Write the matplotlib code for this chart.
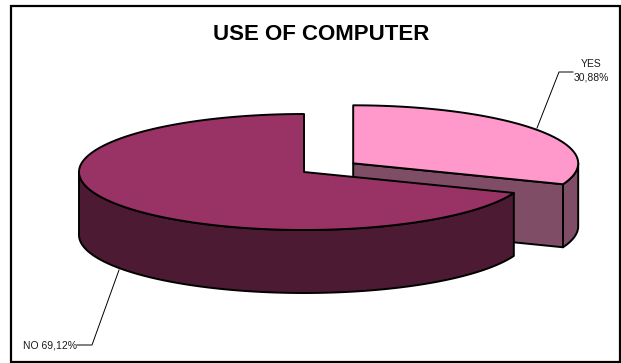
import numpy as np
import matplotlib
matplotlib.use("Agg")
import matplotlib.pyplot as plt
from matplotlib.patches import Polygon, Rectangle

# Survey answers
categories = ["YES", "NO"]
shares = [30.88, 69.12]          # percent
explode = [0.265, 0.0]

title = "USE OF COMPUTER"
top_colors = ["#FF99CC", "#993366"]
side_colors = ["#804D66", "#4D1A33"]

plt.rcParams["font.family"] = ["Liberation Sans", "DejaVu Sans"]

W, H = 621, 363
fig = plt.figure(figsize=(W / 100, H / 100), dpi=100)
ax = fig.add_axes([0, 0, 1, 1])
ax.set_xlim(0, W)
ax.set_ylim(H, 0)
ax.axis("off")

# pie geometry (pixel space, y pointing down)
cx, cy = 304.0, 172.0
a, b = 225.0, 58.0
depth = 63.0
start = 90.0
edge_kw = dict(edgecolor="black", linewidth=1.4, joinstyle="round")


def ell(t, x0, y0, dz=0.0):
    t = np.radians(t)
    return np.column_stack([x0 + a * np.cos(t), y0 - b * np.sin(t) + dz])


def arc(t_hi, t_lo, n=120):
    return np.linspace(t_hi, t_lo, n)


# slice angles (clockwise from 12 o'clock)
slices = []
cum = 0.0
for i, v in enumerate(shares):
    sweep = v / sum(shares) * 360.0
    t_hi = start - cum
    t_lo = t_hi - sweep
    mid = np.radians((t_hi + t_lo) / 2)
    x0 = cx + explode[i] * a * np.cos(mid)
    y0 = cy - explode[i] * b * np.sin(mid)
    slices.append((i, t_hi, t_lo, x0, y0))
    cum += sweep

# back slices first
for i, t_hi, t_lo, x0, y0 in sorted(slices, key=lambda s: s[4]):
    # flat cut faces that face the viewer
    for t, sign in ((t_hi, -1), (t_lo, 1)):
        c = np.cos(np.radians(t))
        if abs(c) < 1e-6 or sign * c < 0:
            continue
        p = ell([t], x0, y0)[0]
        face = [(x0, y0), tuple(p), (p[0], p[1] + depth), (x0, y0 + depth)]
        ax.add_patch(Polygon(face, closed=True, facecolor=side_colors[i], **edge_kw))

    # curved outer wall on the front half (angles where sin < 0)
    segs = []
    for k0, k1 in ((-180.0, 0.0), (-540.0, -360.0)):
        h = min(t_hi, k1)
        l = max(t_lo, k0)
        if h > l:
            segs.append((h, l))
    for h, l in segs:
        ts = arc(h, l)
        top = ell(ts, x0, y0)
        bot = ell(ts[::-1], x0, y0, depth)
        ax.add_patch(Polygon(np.vstack([top, bot]), closed=True,
                             facecolor=side_colors[i], **edge_kw))

    # top face
    ts = arc(t_hi, t_lo, 240)
    pts = np.vstack([[x0, y0], ell(ts, x0, y0)])
    ax.add_patch(Polygon(pts, closed=True, facecolor=top_colors[i], **edge_kw))


def pct(v):
    return f"{v:.2f}".replace(".", ",") + "%"


# data labels with leader lines
lab_kw = dict(fontsize=7.5, color="#1a1a1a")
ax.text(591, 71, f"{categories[0]}\n{pct(shares[0])}", ha="center", va="center",
        multialignment="center", linespacing=1.45, **lab_kw)
ax.plot([573, 559, 537], [72, 72, 128], color="black", lw=0.7)

ax.text(77, 345, f"{categories[1]} {pct(shares[1])}", ha="right", va="center", **lab_kw)
ax.plot([77, 92, 119], [345, 345, 270], color="black", lw=0.7)

ax.text(321, 35, title, ha="center", va="center", fontsize=16,
        fontweight="bold", color="black")

# chart frame
ax.add_patch(Rectangle((10.5, 5.5), 609, 356, fill=False, edgecolor="black", lw=1.6))

fig.savefig("out.png", dpi=100)
